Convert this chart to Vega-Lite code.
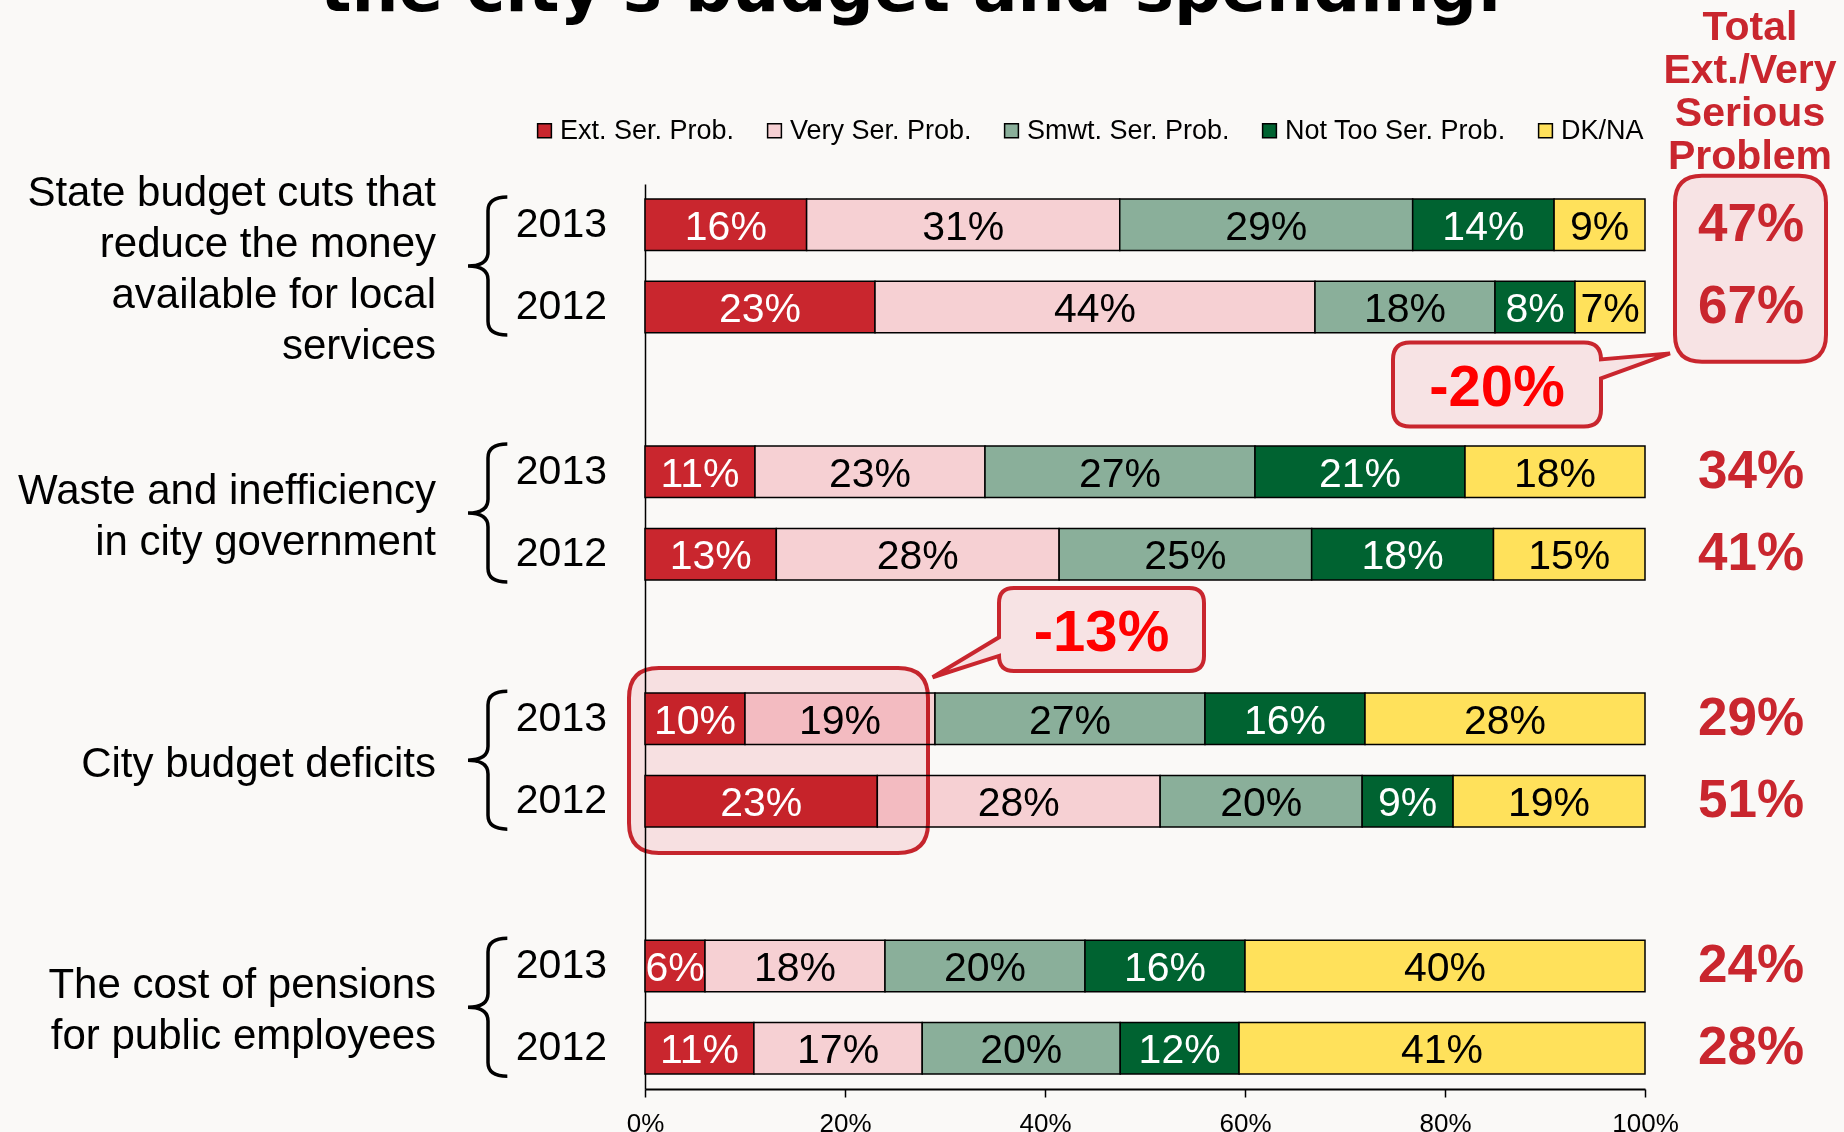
{
  "$schema": "https://vega.github.io/schema/vega-lite/v6.json",
  "width": 1000,
  "height": 905,
  "autosize": {"type": "none"},
  "padding": {"left": 645, "top": 184, "right": 199, "bottom": 43},
  "background": "#FAF9F7",
  "config": {"view": {"stroke": null}, "font": "Liberation Sans"},
  "datasets": {
    "bars": [
      {"row": "S13", "cat": "Ext. Ser. Prob.", "order": 1, "v": 0.16},
      {"row": "S13", "cat": "Very Ser. Prob.", "order": 2, "v": 0.31},
      {"row": "S13", "cat": "Smwt. Ser. Prob.", "order": 3, "v": 0.29},
      {"row": "S13", "cat": "Not Too Ser. Prob.", "order": 4, "v": 0.14},
      {"row": "S13", "cat": "DK/NA", "order": 5, "v": 0.09},
      {"row": "S12", "cat": "Ext. Ser. Prob.", "order": 1, "v": 0.23},
      {"row": "S12", "cat": "Very Ser. Prob.", "order": 2, "v": 0.44},
      {"row": "S12", "cat": "Smwt. Ser. Prob.", "order": 3, "v": 0.18},
      {"row": "S12", "cat": "Not Too Ser. Prob.", "order": 4, "v": 0.08},
      {"row": "S12", "cat": "DK/NA", "order": 5, "v": 0.07},
      {"row": "W13", "cat": "Ext. Ser. Prob.", "order": 1, "v": 0.11},
      {"row": "W13", "cat": "Very Ser. Prob.", "order": 2, "v": 0.23},
      {"row": "W13", "cat": "Smwt. Ser. Prob.", "order": 3, "v": 0.27},
      {"row": "W13", "cat": "Not Too Ser. Prob.", "order": 4, "v": 0.21},
      {"row": "W13", "cat": "DK/NA", "order": 5, "v": 0.18},
      {"row": "W12", "cat": "Ext. Ser. Prob.", "order": 1, "v": 0.13},
      {"row": "W12", "cat": "Very Ser. Prob.", "order": 2, "v": 0.28},
      {"row": "W12", "cat": "Smwt. Ser. Prob.", "order": 3, "v": 0.25},
      {"row": "W12", "cat": "Not Too Ser. Prob.", "order": 4, "v": 0.18},
      {"row": "W12", "cat": "DK/NA", "order": 5, "v": 0.15},
      {"row": "C13", "cat": "Ext. Ser. Prob.", "order": 1, "v": 0.10},
      {"row": "C13", "cat": "Very Ser. Prob.", "order": 2, "v": 0.19},
      {"row": "C13", "cat": "Smwt. Ser. Prob.", "order": 3, "v": 0.27},
      {"row": "C13", "cat": "Not Too Ser. Prob.", "order": 4, "v": 0.16},
      {"row": "C13", "cat": "DK/NA", "order": 5, "v": 0.28},
      {"row": "C12", "cat": "Ext. Ser. Prob.", "order": 1, "v": 0.23},
      {"row": "C12", "cat": "Very Ser. Prob.", "order": 2, "v": 0.28},
      {"row": "C12", "cat": "Smwt. Ser. Prob.", "order": 3, "v": 0.20},
      {"row": "C12", "cat": "Not Too Ser. Prob.", "order": 4, "v": 0.09},
      {"row": "C12", "cat": "DK/NA", "order": 5, "v": 0.19},
      {"row": "P13", "cat": "Ext. Ser. Prob.", "order": 1, "v": 0.06},
      {"row": "P13", "cat": "Very Ser. Prob.", "order": 2, "v": 0.18},
      {"row": "P13", "cat": "Smwt. Ser. Prob.", "order": 3, "v": 0.20},
      {"row": "P13", "cat": "Not Too Ser. Prob.", "order": 4, "v": 0.16},
      {"row": "P13", "cat": "DK/NA", "order": 5, "v": 0.40},
      {"row": "P12", "cat": "Ext. Ser. Prob.", "order": 1, "v": 0.11},
      {"row": "P12", "cat": "Very Ser. Prob.", "order": 2, "v": 0.17},
      {"row": "P12", "cat": "Smwt. Ser. Prob.", "order": 3, "v": 0.20},
      {"row": "P12", "cat": "Not Too Ser. Prob.", "order": 4, "v": 0.12},
      {"row": "P12", "cat": "DK/NA", "order": 5, "v": 0.41}
    ],
    "rows": [
      {"row": "S13", "year": "2013", "total": 0.47},
      {"row": "S12", "year": "2012", "total": 0.67},
      {"row": "W13", "year": "2013", "total": 0.34},
      {"row": "W12", "year": "2012", "total": 0.41},
      {"row": "C13", "year": "2013", "total": 0.29},
      {"row": "C12", "year": "2012", "total": 0.51},
      {"row": "P13", "year": "2013", "total": 0.24},
      {"row": "P12", "year": "2012", "total": 0.28}
    ],
    "topics": [
      {"row": "S13", "lines": 4, "label": "State budget cuts that|reduce the money|available for local|services"},
      {"row": "W13", "lines": 2, "label": "Waste and inefficiency|in city government"},
      {"row": "C13", "lines": 1, "label": "City budget deficits"},
      {"row": "P13", "lines": 2, "label": "The cost of pensions|for public employees"}
    ],
    "one": [{}]
  },
  "layer": [
    {
      "data": {"name": "bars"},
      "transform": [
        {"stack": "v", "groupby": ["row"], "sort": [{"field": "order", "order": "ascending"}], "offset": "normalize", "as": ["x0", "x1"]}
      ],
      "mark": {"type": "bar", "stroke": "black", "strokeWidth": 1.5, "opacity": 1},
      "encoding": {
        "y": {
          "field": "row", "type": "nominal",
          "scale": {"domain": ["S13", "S12", "gap1", "W13", "W12", "gap2", "C13", "C12", "gap3", "P13", "P12"], "paddingInner": 0.375, "paddingOuter": 0.182},
          "axis": {"title": null, "labels": false, "ticks": false, "grid": false, "domainColor": "black", "domainWidth": 1.5}
        },
        "x": {
          "field": "x0", "type": "quantitative",
          "scale": {"domain": [0, 1], "nice": false},
          "axis": {"values": [0, 0.2, 0.4, 0.6, 0.8, 1], "format": ".0%", "title": null, "grid": false, "domainColor": "black", "domainWidth": 2, "tickColor": "black", "tickWidth": 1.5, "tickSize": 8, "labelFontSize": 26, "labelColor": "black", "labelPadding": 13, "labelFlush": false, "labelOverlap": false, "labelFont": "Liberation Sans"}
        },
        "x2": {"field": "x1"},
        "color": {
          "field": "cat", "type": "nominal",
          "scale": {"domain": ["Ext. Ser. Prob.", "Very Ser. Prob.", "Smwt. Ser. Prob.", "Not Too Ser. Prob.", "DK/NA"], "range": ["#C9262E", "#F6D0D3", "#8AAF9A", "#006331", "#FFE15B"]},
          "legend": {"orient": "none", "legendX": -114, "legendY": -67, "direction": "horizontal", "title": null, "labelFontSize": 27, "labelFont": "Liberation Sans", "labelColor": "black", "labelLimit": 400, "symbolType": "square", "symbolSize": 190, "symbolStrokeColor": "black", "symbolStrokeWidth": 1.5, "symbolOpacity": 1, "columnPadding": 26, "labelOffset": 2}
        }
      }
    },
    {
      "data": {"name": "one"},
      "mark": {"type": "point", "shape": "M -1.195 -0.925 L 1.195 -0.925 Q 1.495 -0.925 1.495 -0.625 L 1.495 0.625 Q 1.495 0.925 1.195 0.925 L -1.195 0.925 Q -1.495 0.925 -1.495 0.625 L -1.495 -0.625 Q -1.495 -0.925 -1.195 -0.925 Z", "size": 40000, "filled": true, "fill": "#FCE6E9", "stroke": "#C9262E", "strokeWidth": 4, "opacity": 1, "blend": "multiply", "yOffset": 41.6},
      "encoding": {"x": {"datum": 0.1335}, "y": {"datum": "C13"}}
    },
    {
      "data": {"name": "bars"},
      "transform": [
        {"stack": "v", "groupby": ["row"], "sort": [{"field": "order", "order": "ascending"}], "offset": "normalize", "as": ["x0", "x1"]},
        {"fold": ["x0", "x1"], "as": ["k", "xv"]},
        {"aggregate": [{"op": "mean", "field": "xv", "as": "mid"}], "groupby": ["row", "cat", "v"]}
      ],
      "mark": {"type": "text", "fontSize": 41, "baseline": "middle", "align": "center", "dy": 3, "font": "Liberation Sans"},
      "encoding": {
        "x": {"field": "mid", "type": "quantitative"},
        "y": {"field": "row", "type": "nominal"},
        "text": {"field": "v", "type": "quantitative", "format": ".0%"},
        "fill": {"field": "cat", "type": "nominal", "scale": {"domain": ["Ext. Ser. Prob.", "Very Ser. Prob.", "Smwt. Ser. Prob.", "Not Too Ser. Prob.", "DK/NA"], "range": ["#FFFFFF", "#000000", "#000000", "#FFFFFF", "#000000"]}, "legend": null}
      }
    },
    {
      "data": {"name": "rows"},
      "mark": {"type": "text", "fontSize": 41, "baseline": "middle", "align": "right", "dx": -38, "dy": 0, "fill": "black", "font": "Liberation Sans"},
      "encoding": {"x": {"datum": 0}, "y": {"field": "row", "type": "nominal"}, "text": {"field": "year"}}
    },
    {
      "data": {"name": "topics"},
      "transform": [{"filter": "datum.lines == 4"}],
      "mark": {"type": "text", "fontSize": 42, "baseline": "middle", "align": "right", "dx": -209, "dy": -31.5, "lineHeight": 51, "lineBreak": "|", "fill": "black", "font": "Liberation Sans"},
      "encoding": {"x": {"datum": 0}, "y": {"field": "row", "type": "nominal"}, "text": {"field": "label"}}
    },
    {
      "data": {"name": "topics"},
      "transform": [{"filter": "datum.lines == 2"}],
      "mark": {"type": "text", "fontSize": 42, "baseline": "middle", "align": "right", "dx": -209, "dy": 19.5, "lineHeight": 51, "lineBreak": "|", "fill": "black", "font": "Liberation Sans"},
      "encoding": {"x": {"datum": 0}, "y": {"field": "row", "type": "nominal"}, "text": {"field": "label"}}
    },
    {
      "data": {"name": "topics"},
      "transform": [{"filter": "datum.lines == 1"}],
      "mark": {"type": "text", "fontSize": 42, "baseline": "middle", "align": "right", "dx": -209, "dy": 45, "lineHeight": 51, "lineBreak": "|", "fill": "black", "font": "Liberation Sans"},
      "encoding": {"x": {"datum": 0}, "y": {"field": "row", "type": "nominal"}, "text": {"field": "label"}}
    },
    {
      "data": {"name": "topics"},
      "mark": {"type": "point", "shape": "M 0.28 -1 Q 0 -1 0 -0.8 L 0 -0.2 Q 0 0 -0.29 0 Q 0 0 0 0.2 L 0 0.8 Q 0 1 0.28 1", "size": 19044, "filled": false, "stroke": "black", "strokeWidth": 3.5, "opacity": 1, "xOffset": -157, "yOffset": 41.3},
      "encoding": {"x": {"datum": 0}, "y": {"field": "row", "type": "nominal"}}
    },
    {
      "data": {"name": "one"},
      "mark": {"type": "point", "shape": "M -0.485 -0.93 L 0.485 -0.93 Q 0.755 -0.93 0.755 -0.66 L 0.755 0.66 Q 0.755 0.93 0.485 0.93 L -0.485 0.93 Q -0.755 0.93 -0.755 0.66 L -0.755 -0.66 Q -0.755 -0.93 -0.485 -0.93 Z", "size": 40000, "filled": true, "fill": "#F7E3E4", "stroke": "#C9262E", "strokeWidth": 4, "opacity": 1, "yOffset": 44},
      "encoding": {"x": {"datum": 1.1055}, "y": {"datum": "S13"}}
    },
    {
      "data": {"name": "rows"},
      "mark": {"type": "text", "fontSize": 53, "fontWeight": "bold", "baseline": "middle", "align": "center", "dx": 106, "dy": 0, "fill": "#C9262E", "font": "Liberation Sans"},
      "encoding": {"x": {"datum": 1}, "y": {"field": "row", "type": "nominal"}, "text": {"field": "total", "type": "quantitative", "format": ".0%"}}
    },
    {
      "data": {"name": "one"},
      "mark": {"type": "point", "shape": "M -0.87 -0.42 L 0.87 -0.42 Q 1.04 -0.42 1.04 -0.25 L 1.73 -0.31 L 1.04 -0.06 L 1.04 0.25 Q 1.04 0.42 0.87 0.42 L -0.87 0.42 Q -1.04 0.42 -1.04 0.25 L -1.04 -0.25 Q -1.04 -0.42 -0.87 -0.42 Z", "size": 40000, "filled": true, "fill": "#F7E3E4", "stroke": "#C9262E", "strokeWidth": 4, "opacity": 1, "yOffset": 77.3},
      "encoding": {"x": {"datum": 0.852}, "y": {"datum": "S12"}}
    },
    {
      "data": {"name": "one"},
      "mark": {"type": "text", "text": "-20%", "fontSize": 58, "fontWeight": "bold", "baseline": "middle", "align": "center", "dy": 82, "fill": "#FF0000", "font": "Liberation Sans"},
      "encoding": {"x": {"datum": 0.852}, "y": {"datum": "S12"}}
    },
    {
      "data": {"name": "one"},
      "mark": {"type": "point", "shape": "M -0.875 -0.415 L 0.875 -0.415 Q 1.025 -0.415 1.025 -0.265 L 1.025 0.265 Q 1.025 0.415 0.875 0.415 L -0.875 0.415 Q -1.025 0.415 -1.025 0.265 L -1.689 0.478 L -1.025 0.078 L -1.025 -0.265 Q -1.025 -0.415 -0.875 -0.415 Z", "size": 40000, "filled": true, "fill": "#F7E3E4", "stroke": "#C9262E", "strokeWidth": 4, "opacity": 1, "yOffset": -89.4},
      "encoding": {"x": {"datum": 0.4565}, "y": {"datum": "C13"}}
    },
    {
      "data": {"name": "one"},
      "mark": {"type": "text", "text": "-13%", "fontSize": 58, "fontWeight": "bold", "baseline": "middle", "align": "center", "dy": -84.5, "fill": "#FF0000", "font": "Liberation Sans"},
      "encoding": {"x": {"datum": 0.4565}, "y": {"datum": "C13"}}
    },
    {
      "data": {"name": "one"},
      "mark": {"type": "text", "text": "Total|Ext./Very|Serious|Problem", "lineBreak": "|", "lineHeight": 43, "fontSize": 41, "fontWeight": "bold", "baseline": "alphabetic", "align": "center", "dx": 105, "dy": -184.7, "fill": "#C9262E", "font": "Liberation Sans"},
      "encoding": {"x": {"datum": 1}, "y": {"datum": "S13"}}
    },
    {
      "data": {"name": "one"},
      "mark": {"type": "text", "text": "the city's budget and spending.", "fontSize": 66, "fontWeight": "bold", "baseline": "alphabetic", "align": "center", "dy": -213.7, "fill": "black", "font": "DejaVu Sans"},
      "encoding": {"x": {"datum": 0.266}, "y": {"datum": "S13"}}
    }
  ]
}
